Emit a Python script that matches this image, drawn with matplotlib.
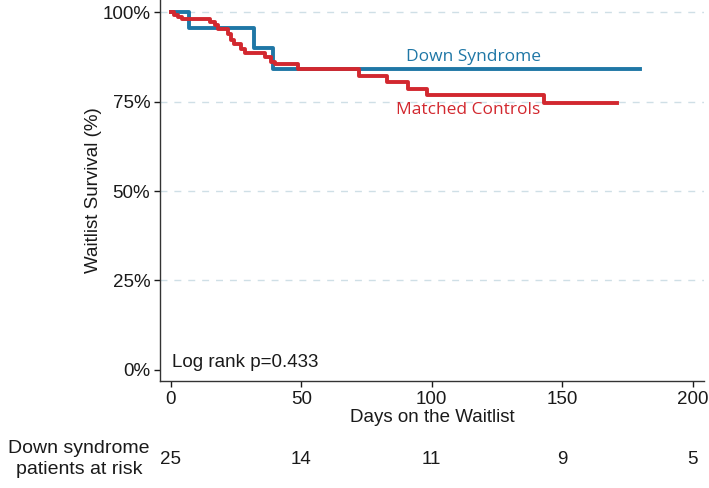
import matplotlib
matplotlib.use("Agg")
import matplotlib.pyplot as plt
from matplotlib.transforms import blended_transform_factory

plt.rcParams['font.family'] = ['Liberation Sans', 'DejaVu Sans']

# Down syndrome KM curve (days, survival %)
ds_days = [0, 7, 32, 39, 180]
ds_surv = [100, 95.5, 89.9, 84.0, 84.0]

# Matched controls KM curve (days, survival %)
mc_days = [0, 1.3, 2.8, 4.3, 15, 16.9, 17.9, 22, 23, 24.3, 27, 28.5, 36, 38.3, 39.9, 48.8, 72, 83, 91, 98, 143, 171]
mc_surv = [100, 99.3, 98.7, 98.0, 97.2, 96.3, 95.3, 93.8, 92.2, 91.0, 89.8, 88.5, 87.4, 86.2, 85.6, 84.0, 82.2, 80.4, 78.6, 76.8, 74.7, 74.7]

x_ticks = [0, 50, 100, 150, 200]
y_ticks = [0, 25, 50, 75, 100]
y_labels = ['0%', '25%', '50%', '75%', '100%']
at_risk = [25, 14, 11, 9, 5]

blue = '#1f77a6'
red = '#d2282f'
txt = '#1a1a1a'
fs = 13.5

fig = plt.figure(figsize=(7.09, 4.88), dpi=100)
ax = fig.add_axes([160/709, 1-381/488, (704-160)/709, 381/488])

for y in [25, 50, 75, 100]:
    ax.axhline(y, color='#cfdfe6', lw=1.0, ls=(0, (5, 5)), zorder=0)

ax.plot(ds_days, ds_surv, drawstyle='steps-post', color=blue, lw=2.8, zorder=2)
ax.plot(mc_days, mc_surv, drawstyle='steps-post', color=red, lw=2.8, zorder=3)

ax.set_xlim(-4.2, 204.4)
ax.set_ylim(-3.1, 103.4)
ax.set_xticks(x_ticks)
ax.set_yticks(y_ticks)
ax.set_yticklabels(y_labels)
ax.tick_params(axis='both', direction='out', length=4, width=1, labelsize=fs, colors=txt, pad=3)
ax.tick_params(axis='x', pad=3)
for s in ['top', 'right']:
    ax.spines[s].set_visible(False)
for s in ['left', 'bottom']:
    ax.spines[s].set_color('#333333')
    ax.spines[s].set_linewidth(1.0)

ax.set_xlabel('Days on the Waitlist', fontsize=fs, labelpad=1, color=txt)
ax.set_ylabel('Waitlist Survival (%)', fontsize=fs, labelpad=0, color=txt)

ax.text(116, 87.6, 'Down Syndrome', color=blue, fontsize=12.5, ha='center', va='center', family=['Open Sans', 'DejaVu Sans'])
ax.text(114, 72.6, 'Matched Controls', color=red, fontsize=12.5, ha='center', va='center', family=['Open Sans', 'DejaVu Sans'])
ax.text(0.3, 2.2, 'Log rank p=0.433', fontsize=fs, ha='left', va='center', color=txt)

tr = blended_transform_factory(ax.transData, fig.transFigure)
for xv, n in zip(x_ticks, at_risk):
    fig.text(xv, 1-459/488, str(n), transform=tr, ha='center', va='center', fontsize=fs, color=txt)
fig.text(79/709, 1-459/488, 'Down syndrome\npatients at risk', ha='center', va='center', fontsize=14, color=txt, linespacing=1.3)

fig.savefig('out.png', dpi=100)
